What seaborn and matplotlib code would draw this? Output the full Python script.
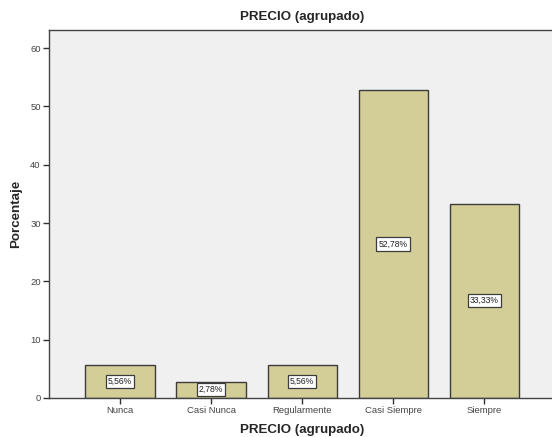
import matplotlib
matplotlib.use("Agg")
import matplotlib.pyplot as plt
import seaborn as sns
import pandas as pd

categorias = ["Nunca", "Casi Nunca", "Regularmente", "Casi Siempre", "Siempre"]
porcentajes = [5.56, 2.78, 5.56, 52.78, 33.33]
y_ticks = [0, 10, 20, 30, 40, 50, 60]

df = pd.DataFrame({"categoria": categorias, "porcentaje": porcentajes})

sns.set_style("white")
plt.rcParams["font.family"] = ["Liberation Sans", "DejaVu Sans"]

fig = plt.figure(figsize=(5.52, 4.37), dpi=100)
ax = fig.add_axes([0.0888, 0.0895, 0.917, 0.8415])
ax.set_facecolor("#f0f0f0")

sns.barplot(data=df, x="categoria", y="porcentaje", ax=ax, color="#d3ce97",
            saturation=1, edgecolor="#3c3c3c", linewidth=1.0, width=0.76)

for i, v in enumerate(porcentajes):
    ax.text(i, v / 2, f"{v:.2f}".replace(".", ",") + "%", ha="center", va="center",
            fontsize=6.2, color="#222222",
            bbox=dict(boxstyle="square,pad=0.25", facecolor="white",
                      edgecolor="#3c3c3c", linewidth=0.9))

ax.set_xlim(-0.78, 4.78)
ax.set_ylim(0, 63.1)
ax.set_yticks(y_ticks)
ax.set_yticklabels([str(t) for t in y_ticks])

ax.tick_params(axis="both", which="both", direction="out", length=4, width=1,
               color="#333333", labelsize=6.8, labelcolor="#444444", pad=2,
               left=True, bottom=True)

for s in ax.spines.values():
    s.set_color("#444444")
    s.set_linewidth(1.0)

ax.set_xlabel("PRECIO (agrupado)", fontsize=9.6, fontweight="bold", labelpad=6)
ax.set_ylabel("Porcentaje", fontsize=9.6, fontweight="bold", labelpad=6)
ax.set_title("PRECIO (agrupado)", fontsize=9.6, fontweight="bold", pad=7)

fig.savefig("out.png", dpi=100, facecolor="white")
